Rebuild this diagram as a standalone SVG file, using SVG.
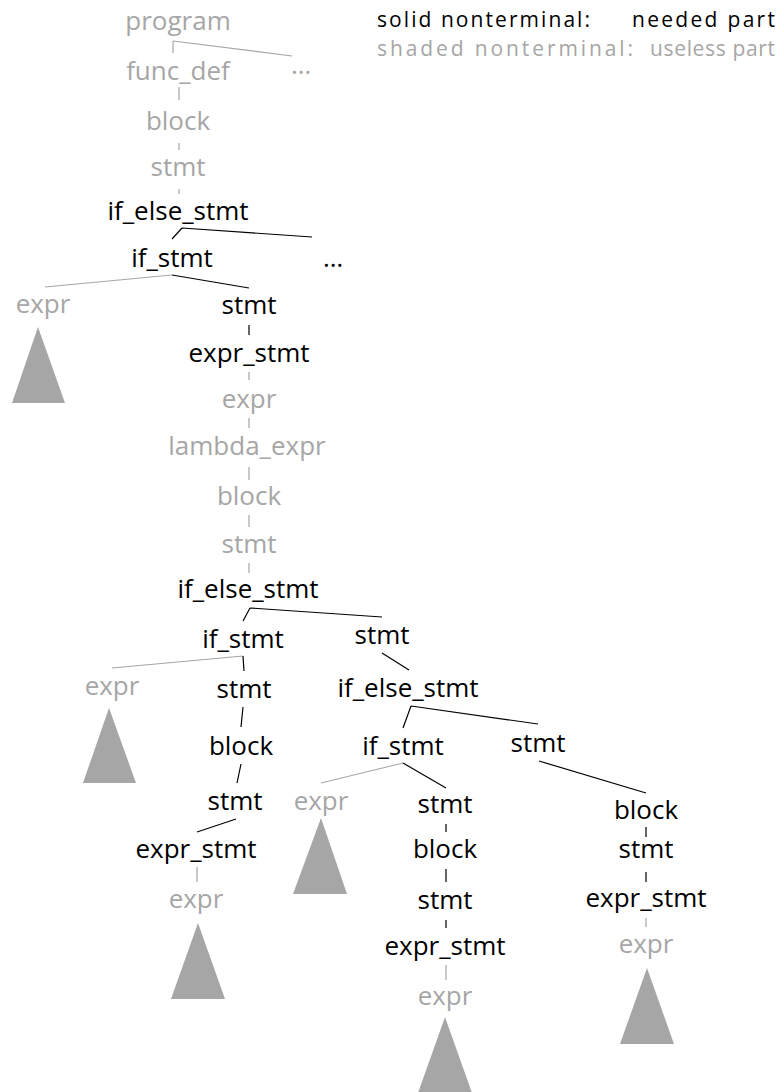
<svg xmlns="http://www.w3.org/2000/svg" width="782" height="1092" viewBox="0 0 782 1092">
<style>
text{font-family:"Open Sans","Noto Sans","Liberation Sans",sans-serif;font-size:26px;text-anchor:middle}
.b{fill:#000}
.g{fill:#a6a6a6}
.lg{text-anchor:start;font-size:21px}
.tri{fill:#a6a6a6}
.cb{stroke:#000;stroke-width:1.2;fill:none}
.cg{stroke:#a6a6a6;stroke-width:1.2;fill:none}
</style>
<rect width="782" height="1092" fill="#fff"/>
<g id="legend">
<text class="b lg" x="377" y="27" textLength="213" lengthAdjust="spacing">solid nonterminal:</text>
<text class="b lg" x="632" y="27" textLength="143" lengthAdjust="spacing">needed part</text>
<text class="g lg" x="377" y="56" textLength="256" lengthAdjust="spacing">shaded nonterminal:</text>
<text class="g lg" x="650" y="56" textLength="125" lengthAdjust="spacing">useless part</text>
</g>
<g id="connectors">
<path class="cg" d="M173,41V53M173,41L292,56M179,87V100M179,143V150M179,189V194"/>
<path class="cb" d="M182,228L172,239M182,228L312,237"/>
<path class="cg" d="M172,275L45,287"/>
<path class="cb" d="M172,275L249,288M249,325V335"/>
<path class="cg" d="M249,372V380M249,418V428M249,467V480M249,515V527M249,563V573"/>
<path class="cb" d="M250,608L243,621M250,608L382,617"/>
<path class="cg" d="M243,656L112,668"/>
<path class="cb" d="M243,656L244,671M243,707L241,727M241,764L237,783M236,819L197,832"/>
<path class="cg" d="M197,867V882"/>
<path class="cb" d="M382,653L409,670M411,706L403,728M411,706L538,724"/>
<path class="cg" d="M403,763L321,783"/>
<path class="cb" d="M403,763L446,788M446,824V832M446,869V882M446,920V928"/>
<path class="cg" d="M446,965V980"/>
<path class="cb" d="M539,761L646,793M646,827V837M646,872V882"/>
<path class="cg" d="M646,918V927"/>
</g>
<g id="n_program"><text class="g" x="178" y="30">program</text></g>
<g id="n_funcdef"><text class="g" x="178" y="80">func_def</text></g>
<g id="n_ell1"><text class="g" x="301" y="74">…</text></g>
<g id="n_block1"><text class="g" x="178" y="130">block</text></g>
<g id="n_stmt1"><text class="g" x="178" y="176">stmt</text></g>
<g id="n_ife1"><text class="b" x="178" y="220">if_else_stmt</text></g>
<g id="n_if1"><text class="b" x="172" y="267">if_stmt</text></g>
<g id="n_ell2"><text class="b" x="333" y="267">…</text></g>
<g id="n_expr1"><text class="g" x="43" y="313">expr</text><polygon class="tri" points="12,403 38,327 65,403"/></g>
<g id="n_stmt2"><text class="b" x="249" y="314">stmt</text></g>
<g id="n_es1"><text class="b" x="249" y="362">expr_stmt</text></g>
<g id="n_expr2"><text class="g" x="249" y="408">expr</text></g>
<g id="n_lambda"><text class="g" x="247" y="455">lambda_expr</text></g>
<g id="n_block2"><text class="g" x="249" y="505">block</text></g>
<g id="n_stmt3"><text class="g" x="249" y="553">stmt</text></g>
<g id="n_ife2"><text class="b" x="248" y="598">if_else_stmt</text></g>
<g id="n_if2"><text class="b" x="243" y="648">if_stmt</text></g>
<g id="n_stmt4"><text class="b" x="382" y="644">stmt</text></g>
<g id="n_expr3"><text class="g" x="112" y="695">expr</text><polygon class="tri" points="83,783 109,708 136,783"/></g>
<g id="n_stmt5"><text class="b" x="244" y="698">stmt</text></g>
<g id="n_block3"><text class="b" x="241" y="755">block</text></g>
<g id="n_stmt6"><text class="b" x="235" y="810">stmt</text></g>
<g id="n_es2"><text class="b" x="196" y="858">expr_stmt</text></g>
<g id="n_expr4"><text class="g" x="196" y="908">expr</text><polygon class="tri" points="171,999 198,923 225,999"/></g>
<g id="n_ife3"><text class="b" x="408" y="697">if_else_stmt</text></g>
<g id="n_if3"><text class="b" x="403" y="755">if_stmt</text></g>
<g id="n_stmt7"><text class="b" x="538" y="752">stmt</text></g>
<g id="n_expr5"><text class="g" x="321" y="810">expr</text><polygon class="tri" points="293,894 321,818 347,894"/></g>
<g id="n_stmt8"><text class="b" x="445" y="813">stmt</text></g>
<g id="n_block4"><text class="b" x="445" y="858">block</text></g>
<g id="n_stmt9"><text class="b" x="445" y="909">stmt</text></g>
<g id="n_es3"><text class="b" x="445" y="955">expr_stmt</text></g>
<g id="n_expr6"><text class="g" x="445" y="1005">expr</text><polygon class="tri" points="418,1093 445,1017 472,1093"/></g>
<g id="n_block5"><text class="b" x="646" y="819">block</text></g>
<g id="n_stmt10"><text class="b" x="646" y="858">stmt</text></g>
<g id="n_es4"><text class="b" x="646" y="907">expr_stmt</text></g>
<g id="n_expr7"><text class="g" x="646" y="953">expr</text><polygon class="tri" points="620,1044 647,968 674,1044"/></g>
</svg>
